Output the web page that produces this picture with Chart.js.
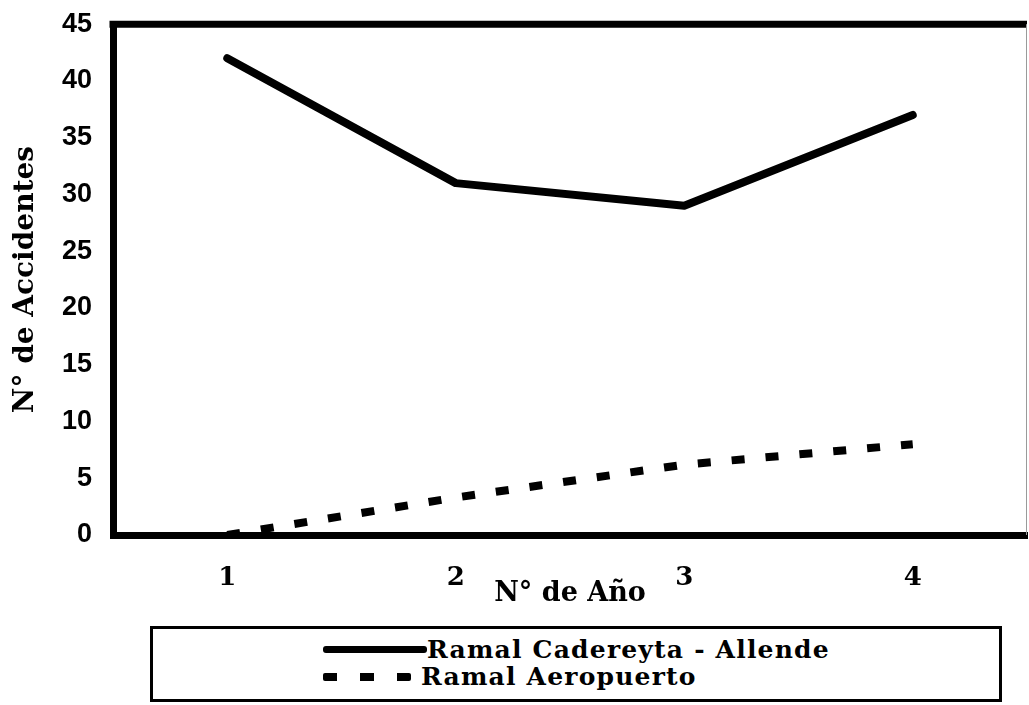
<!DOCTYPE html>
<html>
<head>
<meta charset="utf-8">
<script src="https://cdn.jsdelivr.net/npm/chart.js@4.4.1/dist/chart.umd.min.js"></script>
<style>
  body { margin: 0; background: #fff; overflow: hidden; }
  #wrap { position: relative; width: 1029px; height: 705px; overflow: hidden; }
  #chartBox { position: absolute; left: 0; top: -13px; width: 1029px; height: 635px; }
  #legend {
    position: absolute; left: 150px; top: 626px; width: 846px; height: 70px;
    border: 3px solid #000; font-family: "DejaVu Serif", serif; font-weight: bold;
    font-size: 25px; letter-spacing: 1.2px; color: #000;
  }
  .item { position: absolute; left: 170px; height: 27px; display: flex; align-items: center; }
  .sample { width: 104px; height: 7px; margin-right: 0; }
  .label { line-height: 27px; white-space: nowrap; }
</style>
</head>
<body>
<div id="wrap">
  <div id="chartBox"><canvas id="accidentsCanvas"></canvas></div>
  <div id="legend"></div>
</div>
<script>
// Data
const years = ['1', '2', '3', '4'];
const cadereytaAllende = [42, 31, 29, 37];
const aeropuerto = [0, 3.3, 6.2, 8];
const seriesNames = ['Ramal Cadereyta - Allende', 'Ramal Aeropuerto'];
const yTicks = [0, 5, 10, 15, 20, 25, 30, 35, 40, 45];

// top and right edges of the plot frame
const frame = {
    id: 'frame',
    beforeDatasetsDraw(chart) {
        const { ctx, chartArea: a } = chart;
        ctx.save();
        ctx.strokeStyle = '#000';
        ctx.lineWidth = 7;
        ctx.beginPath();
        ctx.moveTo(a.left - 3.5, a.top);
        ctx.lineTo(a.right, a.top);
        ctx.stroke();
        ctx.strokeStyle = '#9a9a9a';
        ctx.lineWidth = 1;
        ctx.beginPath();
        ctx.moveTo(a.right - 0.5, a.top);
        ctx.lineTo(a.right - 0.5, a.bottom);
        ctx.stroke();
        ctx.restore();
    }
};

// boxed legend under the chart, built from the datasets
const htmlLegend = {
    id: 'htmlLegend',
    afterUpdate(chart) {
        const box = document.getElementById('legend');
        box.innerHTML = '';
        chart.data.datasets.forEach((ds, i) => {
            const item = document.createElement('div');
            item.className = 'item';
            item.style.top = (i === 0 ? 7 : 34) + 'px';
            const s = document.createElement('div');
            s.className = 'sample';
            if (ds.borderDash && ds.borderDash.length) {
                s.style.background = 'repeating-linear-gradient(to right, #000 0 14px, transparent 14px 37px)';
                s.style.height = '8px';
                s.style.width = '88px';
                s.style.marginRight = '10px';
                s.style.borderRadius = '2px';
            } else {
                s.style.background = '#000';
                s.style.borderRadius = '3px';
            }
            const t = document.createElement('span');
            t.className = 'label';
            t.textContent = ds.label;
            item.appendChild(s);
            item.appendChild(t);
            box.appendChild(item);
        });
    }
};

const ctx = document.getElementById('accidentsCanvas').getContext('2d');
new Chart(ctx, {
    type: 'line',
    data: {
        labels: years,
        datasets: [{
            label: seriesNames[0],
            data: cadereytaAllende,
            borderColor: '#000',
            borderWidth: 8,
            borderCapStyle: 'round',
            borderJoinStyle: 'round',
            pointRadius: 0,
            tension: 0
        }, {
            label: seriesNames[1],
            data: aeropuerto,
            borderColor: '#000',
            borderWidth: 8,
            borderDash: [13, 21],
            pointRadius: 0,
            tension: 0
        }]
    },
    options: {
        responsive: true,
        maintainAspectRatio: false,
        animation: false,
        layout: { padding: { left: 5, right: 2, top: 24, bottom: 0 } },
        plugins: { legend: { display: false }, tooltip: { enabled: false } },
        scales: {
            x: {
                offset: true,
                grid: { display: false, drawTicks: false },
                border: { display: true, color: '#000', width: 7 },
                ticks: {
                    color: '#000', padding: 28,
                    font: { family: 'DejaVu Serif', weight: 'bold', size: 26 }
                },
                title: {
                    display: true, text: 'N° de Año', color: '#000',
                    font: { family: 'DejaVu Serif', weight: 'bold', size: 27 },
                    padding: { top: 0, bottom: 12 }
                },
                afterFit(scale) { scale.height = 87; }
            },
            y: {
                min: 0, max: 45,
                afterBuildTicks(scale) { scale.ticks = yTicks.map(v => ({ value: v })); },
                grid: { display: false, drawTicks: false },
                border: { display: true, color: '#000', width: 7 },
                ticks: {
                    color: '#000', padding: 21,
                    font: { family: 'Liberation Sans', weight: 'bold', size: 27 }
                },
                title: {
                    display: true, text: 'N° de Accidentes', color: '#000',
                    font: { family: 'DejaVu Serif', weight: 'bold', size: 28 },
                    padding: { top: 4, bottom: 4 }
                },
                afterFit(scale) { scale.width = 108; }
            }
        }
    },
    plugins: [frame, htmlLegend]
});
</script>
</body>
</html>
